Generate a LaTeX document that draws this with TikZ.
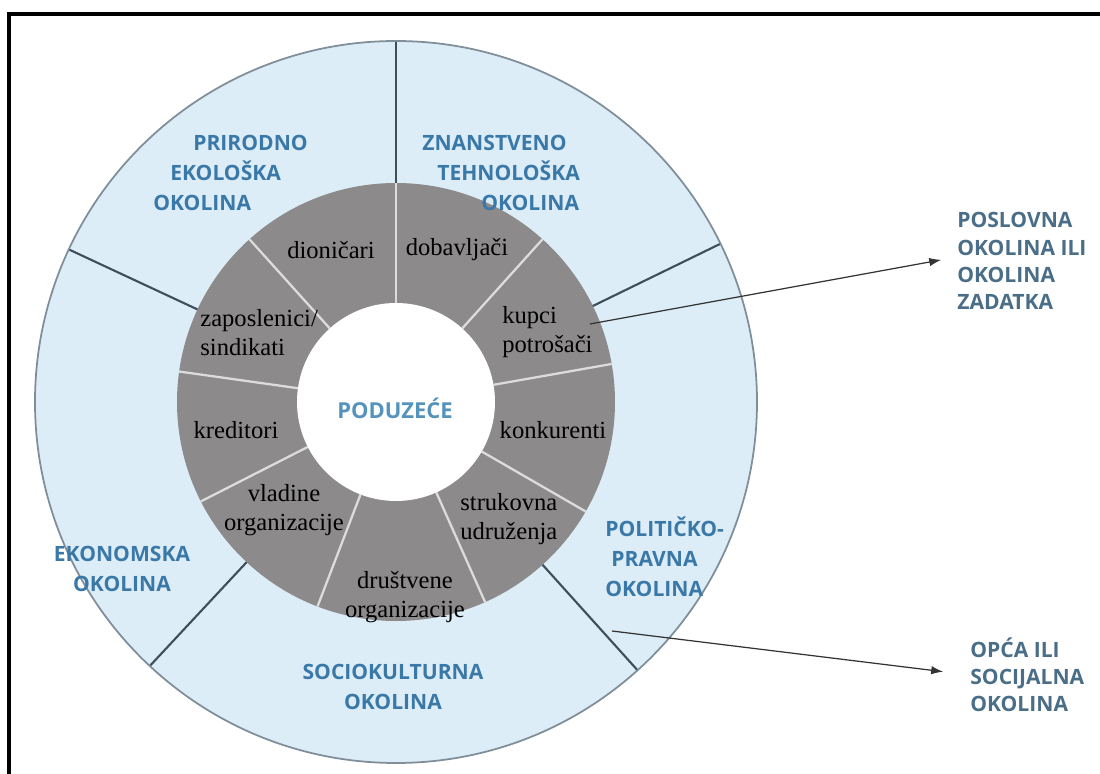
\documentclass[tikz,border=0pt]{standalone}
\usepackage{fontspec}
\setmainfont{Liberation Serif}
\newfontfamily\labelsans{Open Sans}
\usetikzlibrary{arrows.meta}
\definecolor{ringblue}{HTML}{DCEDF7}
\definecolor{ringedge}{HTML}{7F8E99}
\definecolor{ringline}{HTML}{3F4E5A}
\definecolor{coregray}{HTML}{8C8A8A}
\definecolor{coreline}{HTML}{DCDCDC}
\definecolor{labelblue}{HTML}{3A78A8}
\definecolor{firmblue}{HTML}{5393BC}
\definecolor{notegray}{HTML}{4A6E88}

\begin{document}
\begin{tikzpicture}[
  x=0.02cm, y=0.02cm,
  sphere/.style={text=labelblue, inner sep=0pt,
    font=\labelsans\bfseries\fontsize{12}{17}\selectfont},
  party/.style={text=black, inner sep=0pt,
    font=\fontsize{14}{16.5}\selectfont},
  note/.style={text=notegray, inner sep=0pt, align=left, anchor=west,
    font=\labelsans\bfseries\fontsize{12}{15.5}\selectfont},
  firm/.style={text=firmblue, inner sep=0pt,
    font=\labelsans\bfseries\fontsize{12.5}{15}\selectfont},
  ringdiv/.style={draw=ringline, line width=1.2pt},
  corediv/.style={draw=coreline, line width=1.3pt},
  pointer/.style={-{Latex[length=2.4mm, width=1.7mm]}, draw=black!80, line width=0.7pt}
]
  \useasboundingbox (-396,-372) rectangle (704,402);
  \clip (-396,-372) rectangle (704,402);
  \draw[line width=0.065cm] (-387,-420) rectangle (760,388);

  \fill[ringblue] (0,0) circle[radius=361];
  \fill[coregray] (0,0) circle[radius=219];
  \foreach \a in {90,48,10,-30,-66,-111,-153,172,132}
    \draw[corediv] (\a:99) -- (\a:219);
  \foreach \a in {90,26,-48,-133,155}
    \draw[ringdiv] (\a:219) -- (\a:361);
  \draw[ringedge, line width=1pt] (0,0) circle[radius=361];
  \fill[white] (0,0) circle[radius=99];

  \node[firm] (poduzece) at (-1,-6) {PODUZEĆE};

  \node[party] (dionicari) at (-65,152) {dioničari};
  \node[party] (dobavljaci) at (61,152) {dobavljači};
  \node[party, align=left, anchor=west] (kupci) at (106,70) {kupci\\potrošači};
  \node[party] (konkurenti) at (157,-28) {konkurenti};
  \node[party, align=left, anchor=west] (strukovna) at (64,-117) {strukovna\\udruženja};
  \node[party, align=center] (drustvene) at (9,-195) {društvene\\organizacije};
  \node[party, align=center] (vladine) at (-112,-108) {vladine\\organizacije};
  \node[party] (kreditori) at (-160,-28) {kreditori};
  \node[party, align=left, anchor=west] (zaposlenici) at (-196,69) {zaposlenici/\\sindikati};

  \node[sphere, align=left, anchor=west] (prirodno) at (-243,229)
    {\hspace*{0.8cm}PRIRODNO\\\hspace*{0.34cm}EKOLOŠKA\\OKOLINA};
  \node[sphere, align=left, anchor=west] (znanstveno) at (26,229)
    {ZNANSTVENO\\\hspace*{0.3cm}TEHNOLOŠKA\\\hspace*{1.18cm}OKOLINA};
  \node[sphere, align=left, anchor=west] (politicko) at (209,-155)
    {POLITIČKO-\\\hspace*{0.12cm}PRAVNA\\OKOLINA};
  \node[sphere, align=center] (ekonomska) at (-274,-167) {EKONOMSKA\\OKOLINA};
  \node[sphere, align=center] (sociokulturna) at (-3,-285) {SOCIOKULTURNA\\OKOLINA};

  \node[note] (poslovna) at (561,141) {POSLOVNA\\OKOLINA ILI\\OKOLINA\\ZADATKA};
  \node[note] (opca) at (574,-273) {OPĆA ILI\\SOCIJALNA\\OKOLINA};

  \coordinate (kupciTail) at (194,78);
  \coordinate (okolinaTail) at (216,-229);
  \draw[pointer, shorten >=0.32cm] (kupciTail) -- ([yshift=0.08cm]poslovna.west);
  \draw[pointer, shorten >=0.54cm] (okolinaTail) -- (opca.west);
\end{tikzpicture}
\end{document}
